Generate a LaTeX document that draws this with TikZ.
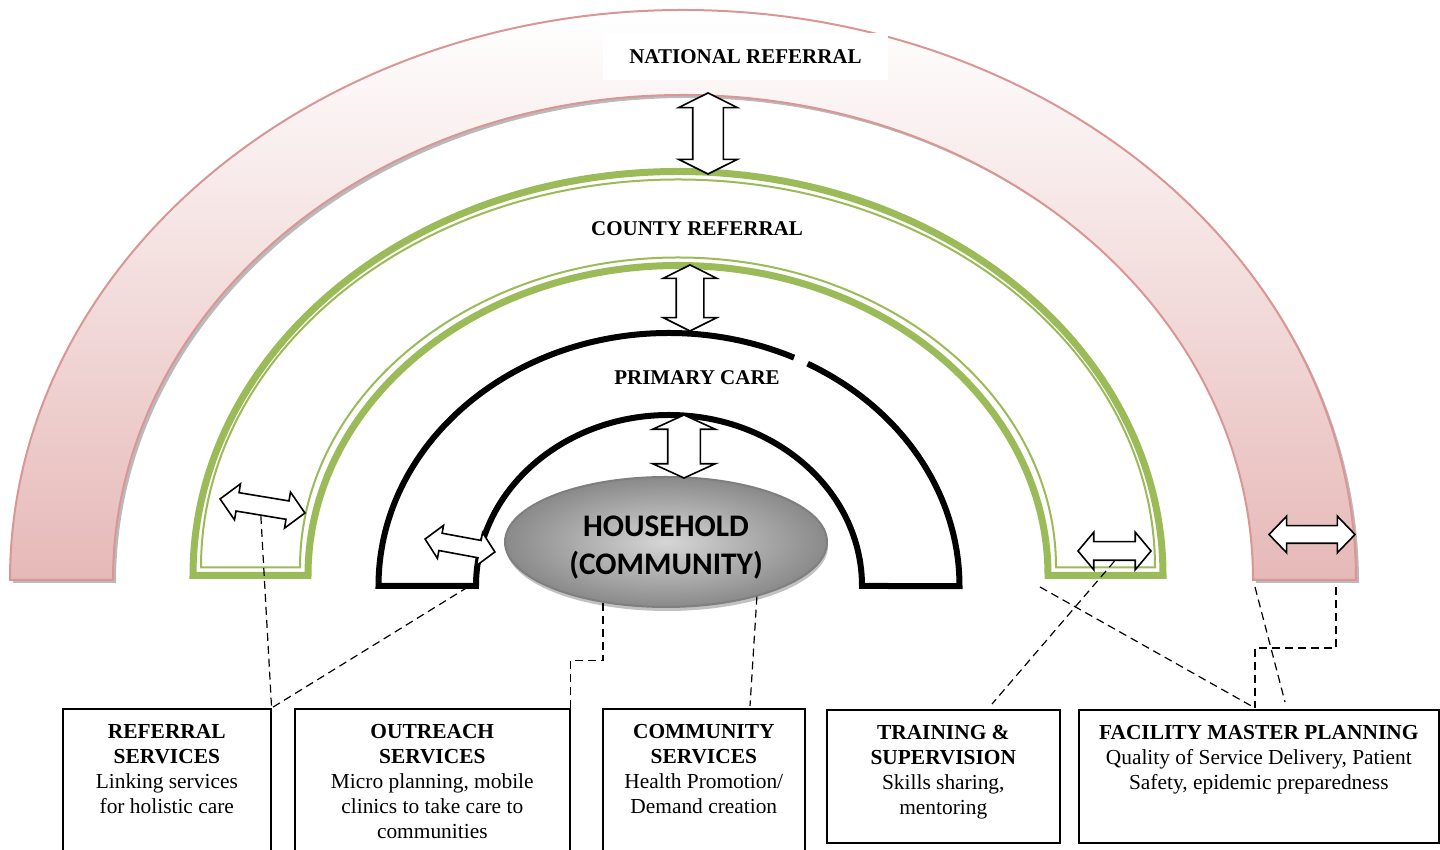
\documentclass[tikz,border=0pt]{standalone}
\usepackage{fontspec}
\setmainfont{Liberation Serif}
\newfontfamily\calibri{Carlito}
\usetikzlibrary{positioning,calc,shapes.geometric,shapes.arrows,shadows}
\definecolor{natpink}{HTML}{D99694}
\definecolor{natfill}{HTML}{E6B9B8}
\definecolor{cntgreen}{HTML}{9BBB59}
\definecolor{hhline}{HTML}{7F7F7F}
\tikzset{every picture/.append style={x=.5pt, y=.5pt}}
\tikzset{
    lvl/.style={font=\fontsize{10.5}{12}\selectfont\bfseries, inner sep=2pt},
    dblarr/.style={double arrow, draw, fill=white, line width=.8pt,
        inner xsep=0pt, line join=miter},
    infobox/.style={draw, line width=.8pt, anchor=north west, inner sep=0pt},
    boxtext/.style={align=center, inner sep=0pt,
        font=\fontsize{10.7}{12.5}\selectfont},
    link/.style={dash pattern=on 4pt off 2.5pt, line width=.6pt}
}

\begin{document}
\begin{tikzpicture}
	\useasboundingbox (0,0) rectangle (1440,850);
	\clip (0,0) rectangle (1440,850);
	% national referral band
	\path[draw=natpink, line width=1pt, top color=white, bottom color=natfill,
		drop shadow={shadow xshift=1.5pt, shadow yshift=-1.5pt, fill=black!45, opacity=.6}]
		(10,270) arc[start angle=180, end angle=0, x radius=673, y radius=570]
		-- (1253,270) arc[start angle=0, end angle=180, x radius=570, y radius=485] -- cycle;
	% county referral band
	\draw[cntgreen, line width=3.5pt, fill=white]
		(193,274.5) arc[start angle=180, end angle=0, x radius=485, y radius=404]
		-- (1048,274.5) arc[start angle=0, end angle=180, x radius=370, y radius=310] -- cycle;
	\draw[cntgreen, line width=1pt]
		(201,282.5) arc[start angle=180, end angle=0, x radius=477, y radius=388]
		-- (1056,282.5) arc[start angle=0, end angle=180, x radius=378, y radius=310] -- cycle;
	% primary care band
	\fill[white] (378.5,264) arc[start angle=180, end angle=0, x radius=290.5, y radius=253]
		-- (862,264) arc[start angle=0, end angle=180, x radius=193, y radius=171] -- cycle;
	\draw[line width=3pt, line join=miter]
		(807.6,486.3) arc[start angle=61.5, end angle=0, x radius=290.5, y radius=253]
		-- (862,264) arc[start angle=0, end angle=180, x radius=193, y radius=171]
		-- (378.5,264) arc[start angle=180, end angle=64.5, x radius=290.5, y radius=253];

	\node[ellipse, draw=hhline, line width=1pt, minimum width=161pt, minimum height=65pt,
		shading=radial, inner color=black!16, outer color=black!46,
		drop shadow={shadow xshift=.5pt, shadow yshift=-2pt, fill=black!30, opacity=.8}]
		(hh) at (666,308) {};
	\node[align=center, font=\calibri\bfseries\fontsize{15.7}{19}\selectfont]
		(hhtxt) at ([yshift=-3pt]hh.center) {HOUSEHOLD\\(COMMUNITY)};

	\node[lvl, fill=white, minimum width=142.5pt, minimum height=23.5pt] (nat) at (745.5,793.5) {NATIONAL REFERRAL};
	\node[lvl] (cnt) at (697,621) {COUNTY REFERRAL};
	\node[lvl] (pc) at (697,472) {PRIMARY CARE};

	% two way arrows
	\node[dblarr, rotate=90, minimum height=40.5pt, minimum width=28.5pt, inner ysep=7.25pt,
		double arrow head extend=7pt, double arrow tip angle=127] (natcnt) at (708,716.5) {};
	\node[dblarr, rotate=90, minimum height=33pt, minimum width=26pt, inner ysep=6.5pt,
		double arrow head extend=6.5pt, double arrow tip angle=127] (cntpc) at (690,552) {};
	\node[dblarr, rotate=90, minimum height=31.5pt, minimum width=30.5pt, inner ysep=7.75pt,
		double arrow head extend=7.5pt, double arrow tip angle=131] (pchh) at (684,403.5) {};
	\node[dblarr, rotate=-9.4, minimum height=43pt, minimum width=17.5pt, inner ysep=4.25pt,
		double arrow head extend=4.5pt, double arrow tip angle=92] (cntl) at (262.5,344) {};
	\node[dblarr, rotate=-10.5, minimum height=35.5pt, minimum width=16pt, inner ysep=4pt,
		double arrow head extend=4pt, double arrow tip angle=94] (pcl) at (460,304.5) {};
	\node[dblarr, minimum height=36.5pt, minimum width=18pt, inner ysep=4.25pt,
		double arrow head extend=4.75pt, double arrow tip angle=100] (cntr) at (1114.5,299) {};
	\node[dblarr, minimum height=43pt, minimum width=17.5pt, inner ysep=4pt,
		double arrow head extend=4.75pt, double arrow tip angle=92] (natr) at (1312,315.5) {};

	% service boxes
	\node[infobox, minimum width=104pt, minimum height=80pt] (refbox) at (62,142) {};
	\node[infobox, minimum width=137.5pt, minimum height=80pt] (outbox) at (294,142) {};
	\node[infobox, minimum width=101pt, minimum height=80pt] (combox) at (602,142) {};
	\node[infobox, minimum width=116.5pt, minimum height=66.5pt] (trnbox) at (826,141) {};
	\node[infobox, minimum width=180pt, minimum height=66.5pt] (fmpbox) at (1078,141) {};
	\node[boxtext, below=8pt of refbox.north] (reftxt)
		{\textbf{REFERRAL}\\\textbf{SERVICES}\\Linking services\\for holistic care};
	\node[boxtext, below=8pt of outbox.north] (outtxt)
		{\textbf{OUTREACH}\\\textbf{SERVICES}\\Micro planning, mobile\\clinics to take care to\\communities};
	\node[boxtext, below=8pt of combox.north] (comtxt)
		{\textbf{COMMUNITY}\\\textbf{SERVICES}\\Health Promotion/\\Demand creation};
	\node[boxtext, below=8pt of trnbox.north] (trntxt)
		{\textbf{TRAINING \&}\\\textbf{SUPERVISION}\\Skills sharing,\\mentoring};
	\node[boxtext, below=8pt of fmpbox.north] (fmptxt)
		{\textbf{FACILITY MASTER PLANNING}\\Quality of Service Delivery, Patient\\Safety, epidemic preparedness};

	% dashed links
	\coordinate (pcfoot) at (468,263);
	\coordinate (comtop) at (750,144);
	\coordinate (trntop) at (992,146);
	\coordinate (cntfoot) at (1040,263);
	\coordinate (fmptop) at (1255,142);
	\coordinate (natfootl) at (1255,263);
	\coordinate (natfootr) at (1336,263);
	\coordinate (fmpend) at (1285,148);
	\draw[link] (cntl.south) -- (refbox.north east);
	\draw[link] (pcfoot) -- (refbox.north east);
	\draw[link] (hh.-136) -- ++(0,-58) -| (outbox.north east);
	\draw[link] (hh.-31) -- (comtop);
	\draw[link] (cntr.south) -- (trntop);
	\draw[link] (cntfoot) -- (fmptop);
	\draw[link] (natfootl) -- (fmpend);
	\draw[link] (natfootr) -- ++(0,-61) -| (fmptop);
\end{tikzpicture}
\end{document}
